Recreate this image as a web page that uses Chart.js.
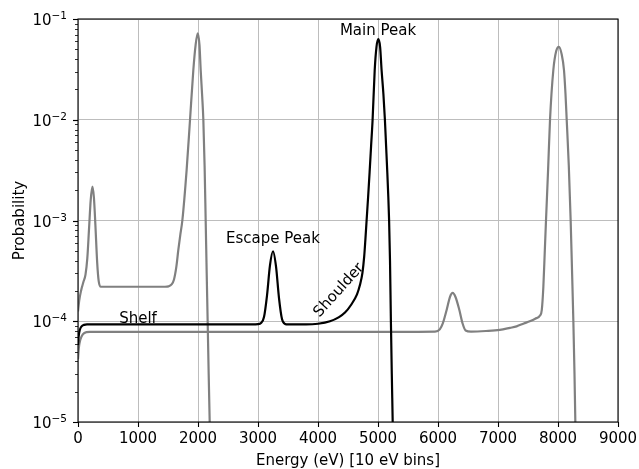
<!DOCTYPE html>
<html>
<head>
<meta charset="utf-8">
<script src="https://cdn.jsdelivr.net/npm/chart.js@4.4.1/dist/chart.umd.min.js"></script>
<style>
  html, body { margin: 0; padding: 0; background: #fff; }
</style>
</head>
<body>
<canvas id="myChart" width="639" height="469"></canvas>
<script>
// ------ data (energy in eV, probability) ------

var mainE = [0, 10, 30, 60, 100, 150, 500, 1000, 1500, 2000, 2500, 2900, 3000, 3050, 3100, 3150, 3200, 3250,
  3300, 3350, 3400, 3450, 3500, 3800, 4000, 4200, 4350, 4450, 4550, 4650, 4700, 4740, 4770, 4790,
  4810, 4835, 4860, 4885, 4910, 4945, 4975, 5005, 5035, 5060, 5090, 5115, 5135, 5155, 5172, 5185,
  5200, 5215, 5230, 5245, 5260];
var mainP = [5.8e-5, 7.0e-5, 8.2e-5, 8.9e-5, 9.2e-5, 9.3e-5, 9.3e-5, 9.3e-5, 9.3e-5, 9.3e-5, 9.3e-5, 9.3e-5, 9.35e-5, 9.6e-5, 1.1e-4, 1.8e-4, 3.6e-4, 4.95e-4,
  3.5e-4, 1.7e-4, 1.05e-4, 9.4e-5, 9.3e-5, 9.3e-5, 9.45e-5, 1.0e-4, 1.1e-4, 1.22e-4, 1.45e-4, 1.85e-4, 2.3e-4, 3.0e-4, 4.4e-4, 6.5e-4,
  1e-3, 1.7e-3, 3e-3, 5.5e-3, 1e-2, 3.1e-2, 5.3e-2, 6.3e-2, 5.3e-2, 3.1e-2, 1.8e-2, 1e-2, 5.5e-3, 3e-3, 1.7e-3, 1e-3,
  4e-4, 1e-4, 3e-5, 1e-5, 3e-6];

var lowE = [0, 20, 50, 90, 125, 155, 185, 212, 240, 265, 290, 320, 345, 380, 800, 1200, 1450, 1510, 1560, 1600,
  1640, 1672, 1705, 1739, 1811, 1867, 1922, 1960, 1995, 2025, 2045, 2070, 2089, 2110, 2128, 2145, 2161,
  2178, 2195, 2215];
var lowP = [1.25e-4, 1.6e-4, 2.0e-4, 2.45e-4, 2.9e-4, 4.2e-4, 8.5e-4, 1.6e-3, 2.17e-3, 1.7e-3, 9e-4, 3.8e-4, 2.5e-4, 2.2e-4, 2.2e-4, 2.2e-4, 2.2e-4, 2.22e-4, 2.32e-4, 2.6e-4,
  3.5e-4, 5.1e-4, 7.2e-4, 1e-3, 3.2e-3, 1e-2, 3.1e-2, 5.5e-2, 7.2e-2, 5.5e-2, 3.1e-2, 1.7e-2, 1e-2, 3.5e-3, 1e-3, 3e-4, 1e-4,
  3e-5, 1e-5, 3e-6];

var highE = [0, 15, 40, 80, 140, 200, 1000, 3000, 5000, 5950, 6030, 6080, 6145, 6200, 6245, 6290, 6355, 6410, 6460,
  6550, 6800, 7030, 7200, 7310, 7430, 7530, 7620, 7700, 7730, 7756, 7780, 7800, 7835, 7867, 7922,
  7970, 8015, 8060, 8100, 8125, 8145, 8180, 8211, 8235, 8256, 8275, 8289, 8310];
var highP = [4.2e-5, 5.5e-5, 6.6e-5, 7.4e-5, 7.8e-5, 7.85e-5, 7.85e-5, 7.85e-5, 7.85e-5, 7.9e-5, 8.3e-5, 9.5e-5, 1.3e-4, 1.75e-4, 1.91e-4, 1.75e-4, 1.3e-4, 9.5e-5, 8.1e-5,
  7.9e-5, 8.0e-5, 8.2e-5, 8.6e-5, 8.9e-5, 9.5e-5, 1.0e-4, 1.06e-4, 1.14e-4, 1.3e-4, 2.2e-4, 5e-4, 1e-3, 3.2e-3, 1e-2, 3.1e-2,
  4.8e-2, 5.3e-2, 4.5e-2, 3.1e-2, 1.8e-2, 1e-2, 3.5e-3, 1e-3, 3e-4, 1e-4, 3e-5, 1e-5, 3e-6];

var xTicks = [0, 1000, 2000, 3000, 4000, 5000, 6000, 7000, 8000, 9000];
var yExps = [-5, -4, -3, -2, -1];

var notes = [
  { text: 'Main Peak', x: 5000, y: 6.9e-2, angle: 0, base: 'alphabetic' },
  { text: 'Escape Peak', x: 3250, y: 6.0e-4, angle: 0, base: 'alphabetic' },
  { text: 'Shoulder', x: 4350, y: 2.03e-4, angle: -48, base: 'middle' },
  { text: 'Shelf', x: 1000, y: 9.64e-5, angle: 0, base: 'alphabetic' }
];

function pairs(xs, ys) {
  return xs.map(function (x, i) { return { x: x, y: ys[i] }; });
}

function isMajor(v) {
  var l = Math.log10(v);
  return Math.abs(l - Math.round(l)) < 1e-6;
}

var FONT = '"DejaVu Sans", sans-serif';
var FS = 15;

// frame, tick marks, log labels, axis titles and text notes
var decorations = {
  id: 'decorations',
  afterDraw: function (chart) {
    var ctx = chart.ctx;
    var ca = chart.chartArea;
    var xs = chart.scales.x;
    var ys = chart.scales.y;
    ctx.save();
    ctx.strokeStyle = '#000';
    ctx.fillStyle = '#000';

    // ticks
    ctx.lineWidth = 1.1;
    xTicks.forEach(function (t) {
      var px = Math.round(xs.getPixelForValue(t)) + 0.5;
      ctx.beginPath();
      ctx.moveTo(px, ca.bottom);
      ctx.lineTo(px, ca.bottom + 5);
      ctx.stroke();
    });
    for (var e = -5; e < -1; e++) {
      for (var k = 1; k <= 10; k++) {
        var v = k * Math.pow(10, e);
        var py = Math.round(ys.getPixelForValue(v)) + 0.5;
        var len = (k === 1 || k === 10) ? 5 : 3;
        ctx.lineWidth = (k === 1 || k === 10) ? 1.1 : 0.8;
        ctx.beginPath();
        ctx.moveTo(ca.left, py);
        ctx.lineTo(ca.left - len, py);
        ctx.stroke();
      }
    }

    // frame
    ctx.lineWidth = 1.1;
    ctx.strokeRect(ca.left, ca.top, ca.right - ca.left, ca.bottom - ca.top);

    // y tick labels as 10^n
    ctx.textAlign = 'left';
    ctx.textBaseline = 'alphabetic';
    yExps.forEach(function (n) {
      var py = ys.getPixelForValue(Math.pow(10, n));
      var sup = '\u2212' + Math.abs(n);
      ctx.font = '10.5px ' + FONT;
      var sw = ctx.measureText(sup).width;
      ctx.font = FS + 'px ' + FONT;
      var bw = ctx.measureText('10').width;
      var right = ca.left - 11;
      ctx.fillText('10', right - sw - bw, py + 6);
      ctx.font = '10.5px ' + FONT;
      ctx.fillText(sup, right - sw, py);
    });

    // axis titles
    ctx.font = FS + 'px ' + FONT;
    ctx.textAlign = 'center';
    ctx.fillText('Energy (eV) [10 eV bins]', (ca.left + ca.right) / 2, 465);
    ctx.save();
    ctx.translate(24, (ca.top + ca.bottom) / 2);
    ctx.rotate(-Math.PI / 2);
    ctx.fillText('Probability', 0, 0);
    ctx.restore();

    // notes
    notes.forEach(function (n) {
      ctx.save();
      ctx.translate(xs.getPixelForValue(n.x), ys.getPixelForValue(n.y));
      ctx.rotate(n.angle * Math.PI / 180);
      ctx.textAlign = 'center';
      ctx.textBaseline = n.base;
      ctx.fillText(n.text, 0, 0);
      ctx.restore();
    });
    ctx.restore();
  }
};

var myChart = new Chart('myChart', {
  type: 'line',
  data: {
    datasets: [{
      data: pairs(mainE, mainP),
      borderColor: '#000000',
      borderWidth: 2.2,
      order: 0
    }, {
      data: pairs(lowE, lowP),
      borderColor: '#808080',
      borderWidth: 2.2,
      order: 1
    }, {
      data: pairs(highE, highP),
      borderColor: '#808080',
      borderWidth: 2.2,
      order: 2
    }]
  },
  options: {
    responsive: false,
    animation: false,
    events: [],
    elements: {
      point: { radius: 0 },
      line: { cubicInterpolationMode: 'monotone', fill: false }
    },
    layout: { padding: { top: 19, right: 21, left: 0, bottom: 0 } },
    plugins: {
      legend: { display: false },
      tooltip: { enabled: false }
    },
    scales: {
      x: {
        type: 'linear',
        min: 0,
        max: 9000,
        ticks: {
          stepSize: 1000,
          color: '#000',
          padding: 8,
          maxRotation: 0,
          autoSkip: false,
          font: { family: FONT, size: FS },
          callback: function (v) { return String(v); }
        },
        grid: { color: '#bdbdbd', lineWidth: 1, drawTicks: false },
        border: { display: false },
        afterFit: function (s) {
          s.height = 47;
          s.paddingLeft = 0;
          s.paddingRight = 0;
        }
      },
      y: {
        type: 'logarithmic',
        min: 1e-5,
        max: 1e-1,
        ticks: { display: false, autoSkip: false },
        grid: {
          drawTicks: false,
          lineWidth: 1,
          color: function (c) {
            return (c.tick && isMajor(c.tick.value)) ? '#bdbdbd' : 'rgba(0,0,0,0)';
          }
        },
        border: { display: false },
        afterFit: function (s) {
          s.width = 78;
          s.paddingTop = 0;
          s.paddingBottom = 0;
        }
      }
    }
  },
  plugins: [decorations]
});
</script>
</body>
</html>
